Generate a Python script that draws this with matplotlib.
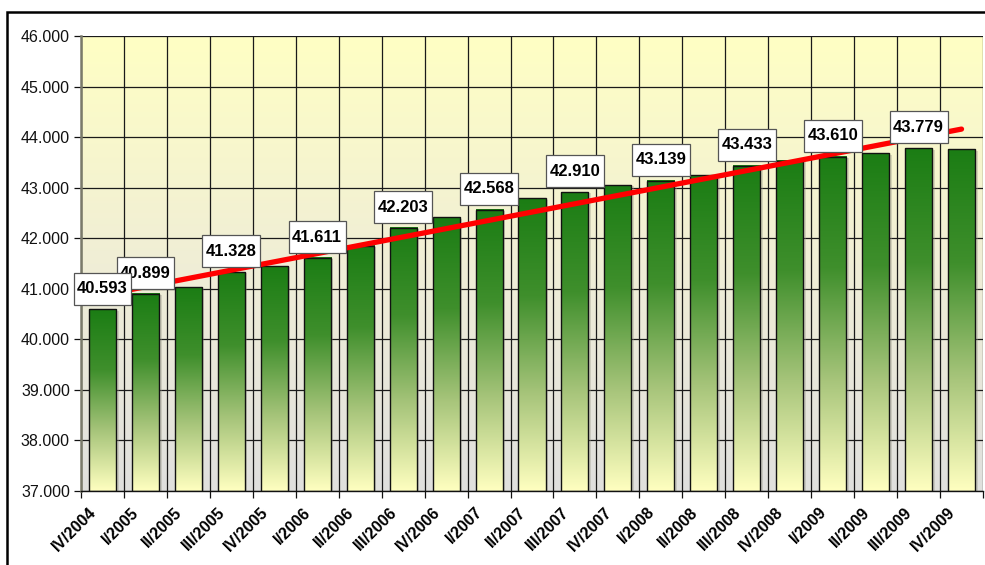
import numpy as np
import matplotlib
matplotlib.use("Agg")
import matplotlib.pyplot as plt
import matplotlib.transforms as mtransforms
from matplotlib.colors import LinearSegmentedColormap
from matplotlib.patches import Rectangle
from matplotlib.path import Path

categories = ["IV/2004", "I/2005", "II/2005", "III/2005", "IV/2005",
              "I/2006", "II/2006", "III/2006", "IV/2006",
              "I/2007", "II/2007", "III/2007", "IV/2007",
              "I/2008", "II/2008", "III/2008", "IV/2008",
              "I/2009", "II/2009", "III/2009", "IV/2009"]
values = [40593, 40899, 41030, 41328, 41450, 41611, 41850, 42203, 42410,
          42568, 42790, 42910, 43050, 43139, 43245, 43433, 43530, 43610,
          43680, 43779, 43760]
labelled = [0, 1, 3, 5, 7, 9, 11, 13, 15, 17, 19]
y_ticks = [37000, 38000, 39000, 40000, 41000, 42000, 43000, 44000, 45000, 46000]

plt.rcParams['font.family'] = ['Liberation Sans', 'DejaVu Sans']

W, H = 985, 565
fig = plt.figure(figsize=(W / 100, H / 100), dpi=100)
L, R, T, B = 81, 983, 36, 491
ax = fig.add_axes([L / W, (H - B) / H, (R - L) / W, (B - T) / H])

n = len(values)
ymin, ymax = y_ticks[0], y_ticks[-1]
ax.set_xlim(-0.5, n - 0.5)
ax.set_ylim(ymin, ymax)

# background gradient (pale yellow top -> light gray bottom)
bg_cmap = LinearSegmentedColormap.from_list("bg", ["#e0e0de", "#f0eed6", "#ffffc4"])
grad = np.linspace(0, 1, 256).reshape(-1, 1)
ax.imshow(grad, cmap=bg_cmap, origin="lower", aspect="auto",
          extent=[-0.5, n - 0.5, ymin, ymax], zorder=0)

# grid
for yt in y_ticks:
    ax.axhline(yt, color="#1a1a1a", lw=0.9, zorder=1)
for k in range(n + 1):
    ax.axvline(k - 0.5, color="#1a1a1a", lw=0.9, zorder=1)

# bars
bar_cmap = LinearSegmentedColormap.from_list("bar", ["#ffffc0", "#a6c47a", "#3f8f2c", "#1b7d14"])
bars = ax.bar(range(n), [v - ymin for v in values], bottom=ymin, width=0.63,
              facecolor="none", edgecolor="#111111", linewidth=1.0, zorder=3)
for p in bars:
    x0, w = p.get_x(), p.get_width()
    y0, h = p.get_y(), p.get_height()
    ax.add_patch(Rectangle((x0 + 0.06, y0), w, h - 25, facecolor="#9a9a8a",
                           edgecolor="none", alpha=0.35, zorder=1.5))
    ax.imshow(grad, cmap=bar_cmap, origin="lower", aspect="auto",
              extent=[x0, x0 + w, y0, y0 + h], zorder=2)

# trendline
xs = np.arange(n)
coef = np.polyfit(xs, values, 1)
ax.plot([xs[0], xs[-1]], np.polyval(coef, [xs[0], xs[-1]]), color="#ff0000",
        lw=3.8, solid_capstyle="round", zorder=4)


def label_box(x0, y0, width, height, mutation_size):
    px, py = 3.5, 8.5
    x0, y0 = x0 - px, y0 - py
    x1, y1 = x0 + width + 2 * px, y0 + height + 2 * py
    return Path([(x0, y0), (x1, y0), (x1, y1), (x0, y1), (x0, y0)], closed=True)


# data labels
for j, i in enumerate(labelled):
    ax.annotate(f"{values[i] / 1000:.3f}", xy=(i, values[i]), xytext=(0, 15),
                textcoords="offset points", ha="center", va="center",
                fontsize=12, fontweight="bold", color="black", zorder=20 - j,
                bbox=dict(boxstyle=label_box, facecolor="white",
                          edgecolor="#555555", linewidth=0.9))

# axes styling
for s in ["top", "right"]:
    ax.spines[s].set_visible(False)
ax.spines["left"].set_color("#7a7a6a")
ax.spines["left"].set_linewidth(1.8)
ax.spines["bottom"].set_color("#111111")
ax.spines["bottom"].set_linewidth(1.0)
ax.spines["left"].set_zorder(5)
ax.spines["bottom"].set_zorder(5)

ax.set_yticks(y_ticks)
ax.set_yticklabels([f"{t / 1000:.3f}" for t in y_ticks], fontsize=11.5, color="#111111")
ax.tick_params(axis="y", direction="out", length=5, width=0.9, color="#111111", pad=3)

ax.set_xticks(np.arange(n + 1) - 0.5, minor=False)
ax.set_xticklabels([])
ax.tick_params(axis="x", direction="out", length=5, width=0.9, color="#111111")
ax.set_xticks(np.arange(n), minor=True)
ax.set_xticklabels(categories, minor=True, rotation=45, ha="right",
                   rotation_mode="anchor", fontsize=11.5, fontweight="bold")
ax.tick_params(axis="x", which="minor", length=0, pad=9)
shift = mtransforms.ScaledTranslation(-14 / 100, -1 / 100, fig.dpi_scale_trans)
for lbl in ax.get_xticklabels(minor=True):
    lbl.set_transform(lbl.get_transform() + shift)

# outer frame
fig.patches.append(Rectangle((7 / W, -0.1), 1.2, (H - 12) / H + 0.1,
                             transform=fig.transFigure, fill=False,
                             edgecolor="black", linewidth=1.8, zorder=10))

fig.savefig("out.png", dpi=100)
